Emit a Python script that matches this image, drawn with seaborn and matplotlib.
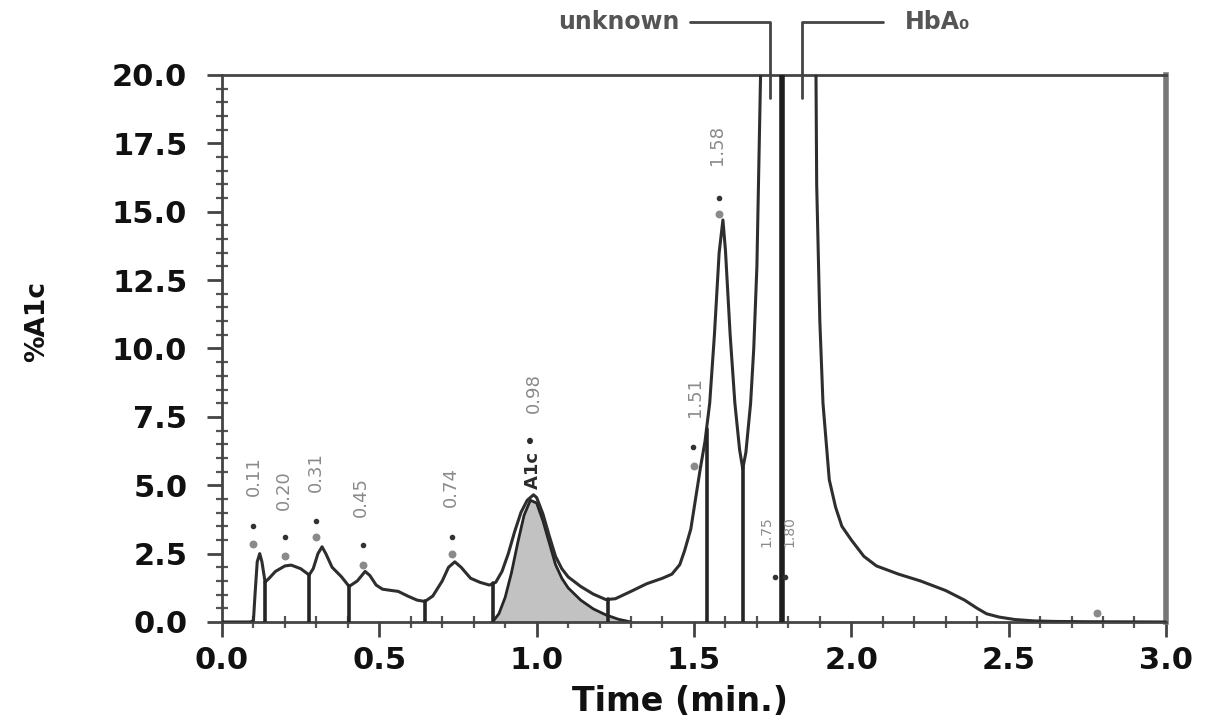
import numpy as np
import pandas as pd
import seaborn as sns
import matplotlib.pyplot as plt

# chromatogram trace (time in min, %A1c); values above 20 are off-scale
time = [0.00, 0.09, 0.10, 0.105, 0.112, 0.12, 0.127, 0.137, 0.15, 0.17, 0.20, 0.22,
        0.25, 0.277, 0.29, 0.305, 0.318, 0.33, 0.35, 0.38, 0.404, 0.43, 0.455, 0.47,
        0.49, 0.51, 0.54, 0.56, 0.59, 0.62, 0.645, 0.67, 0.70, 0.72, 0.74, 0.76,
        0.79, 0.82, 0.85, 0.87, 0.89, 0.91, 0.93, 0.95, 0.97, 0.99, 1.00, 1.02,
        1.04, 1.06, 1.08, 1.10, 1.14, 1.18, 1.22, 1.25, 1.30, 1.35, 1.40, 1.43,
        1.455, 1.47, 1.49, 1.505, 1.52, 1.535, 1.55, 1.565, 1.58, 1.592, 1.60,
        1.615, 1.63, 1.645, 1.655, 1.665, 1.68, 1.69, 1.70, 1.71, 1.72, 1.78,
        1.885, 1.89, 1.90, 1.91, 1.93, 1.95, 1.97, 2.00, 2.04, 2.08, 2.15, 2.22,
        2.30, 2.36, 2.40, 2.43, 2.47, 2.52, 2.58, 2.65, 2.75, 3.00]
signal = [0.0, 0.0, 0.05, 1.0, 2.2, 2.5, 2.2, 1.46, 1.6, 1.85, 2.05, 2.08,
          1.95, 1.72, 1.95, 2.5, 2.75, 2.5, 2.0, 1.65, 1.3, 1.5, 1.85, 1.7,
          1.35, 1.2, 1.15, 1.12, 0.95, 0.8, 0.75, 0.95, 1.5, 2.0, 2.2, 2.0,
          1.6, 1.45, 1.35, 1.45, 1.85, 2.5, 3.3, 4.0, 4.45, 4.65, 4.55, 3.95,
          3.15, 2.4, 1.95, 1.65, 1.3, 1.02, 0.82, 0.85, 1.12, 1.4, 1.6, 1.75,
          2.1, 2.6, 3.4, 4.5, 5.6, 6.6, 8.0, 10.5, 13.5, 14.7, 13.6,
          10.5, 8.0, 6.3, 5.6, 6.2, 8.0, 10.0, 13.0, 19.0, 25.0, 60.0,
          25.0, 16.0, 11.0, 8.0, 5.2, 4.2, 3.5, 3.0, 2.4, 2.05, 1.75, 1.5,
          1.15, 0.8, 0.5, 0.3, 0.18, 0.09, 0.04, 0.02, 0.01, 0.0]

# fitted A1c peak (shaded)
a1c_time = [0.86, 0.88, 0.90, 0.92, 0.94, 0.96, 0.98, 1.00, 1.02, 1.04, 1.06,
            1.08, 1.10, 1.14, 1.18, 1.22, 1.26, 1.30]
a1c_signal = [0.0, 0.3, 0.9, 1.8, 2.9, 3.9, 4.45, 4.35, 3.7, 2.9, 2.1,
              1.6, 1.25, 0.8, 0.48, 0.26, 0.1, 0.0]

# integration drop lines
drop_times = [0.137, 0.277, 0.404, 0.645, 0.862, 1.226, 1.54, 1.656]
hb_a0_line = 1.78

# retention time labels: (time, text bottom, text)
rt_times = [0.10, 0.197, 0.30, 0.44, 0.728, 0.99, 1.503, 1.573, 1.729, 1.802]
rt_bottoms = [4.6, 4.1, 4.75, 3.85, 4.2, 7.65, 7.5, 16.7, 2.75, 2.75]
rt_labels = ["0.11", "0.20", "0.31", "0.45", "0.74", "0.98", "1.51", "1.58", "1.75", "1.80"]

# peak marker dots
black_dot_t = [0.10, 0.20, 0.30, 0.448, 0.73, 1.497, 1.58, 1.757, 1.79]
black_dot_y = [3.5, 3.1, 3.7, 2.8, 3.1, 6.4, 15.5, 1.65, 1.65]
grey_dot_t = [0.10, 0.20, 0.30, 0.448, 0.73, 1.50, 1.58, 2.78]
grey_dot_y = [2.85, 2.4, 3.1, 2.1, 2.5, 5.7, 14.9, 0.33]

sns.set_style("ticks")
plt.rcParams['font.family'] = ['DejaVu Sans']

fig = plt.figure(figsize=(12.09, 7.23), dpi=100)
ax = fig.add_axes([0.1836, 0.1397, 0.7808, 0.7566])

df = pd.DataFrame({"time": time, "signal": signal})
ax.fill_between(a1c_time, a1c_signal, color="#c2c2c2", lw=0, zorder=1)
ax.plot(a1c_time, a1c_signal, color="#262626", lw=2, zorder=2)
sns.lineplot(data=df, x="time", y="signal", ax=ax, color="#2e2e2e", lw=2.2,
             estimator=None, sort=False, zorder=3)

for t in drop_times:
    ax.plot([t, t], [0, np.interp(t, time, signal)], color="#262626", lw=2.6, zorder=3)
ax.plot([hb_a0_line, hb_a0_line], [0, 20], color="#1e1e1e", lw=4, zorder=4)

for t, b, s in zip(rt_times, rt_bottoms, rt_labels):
    fs = 10 if t > 1.7 else 13
    ax.text(t, b, s, rotation=90, ha="center", va="bottom", fontsize=fs,
            color="#8a8a8a", zorder=5)
ax.text(0.99, 4.85, "A1c •", rotation=90, ha="center", va="bottom", fontsize=13,
        fontweight="bold", color="#2a2a2a", zorder=5)

ax.scatter(black_dot_t, black_dot_y, s=9, color="#333333", zorder=5)
ax.scatter(grey_dot_t, grey_dot_y, s=22, color="#8a8a8a", zorder=5)

# peak name leaders above the plot
ax.plot([1.487, 1.741, 1.741], [21.94, 21.94, 19.16], color="#444444", lw=2, clip_on=False)
ax.plot([2.100, 1.843, 1.843], [21.94, 21.94, 19.16], color="#444444", lw=2, clip_on=False)
ax.text(1.455, 21.94, "unknown", ha="right", va="center", fontsize=17,
        color="#555555", fontweight="bold")
ax.text(2.17, 21.94, "HbA₀", ha="left", va="center", fontsize=17,
        color="#555555", fontweight="bold")

ax.set_xlim(0, 3.0)
ax.set_ylim(0, 20)
ax.set_xticks(np.arange(0, 3.01, 0.5))
ax.set_xticks(np.arange(0, 3.01, 0.1), minor=True)
ax.set_yticks(np.arange(0, 20.01, 2.5))
ax.set_yticks(np.arange(0, 20.01, 0.5), minor=True)
ax.xaxis.set_major_formatter(plt.FormatStrFormatter("%.1f"))
ax.yaxis.set_major_formatter(plt.FormatStrFormatter("%.1f"))

ax.tick_params(axis="both", which="major", direction="out", length=11, width=2,
               color="#444444", labelsize=22, pad=6)
ax.tick_params(axis="y", which="major", pad=14)
ax.tick_params(axis="both", which="minor", direction="inout", length=9, width=1.6,
               color="#555555")
for lab in ax.get_xticklabels() + ax.get_yticklabels():
    lab.set_fontweight("bold")
    lab.set_color("#111111")

for side in ["left", "bottom", "top"]:
    ax.spines[side].set_color("#444444")
    ax.spines[side].set_linewidth(2)
ax.spines["right"].set_color("#777777")
ax.spines["right"].set_linewidth(4)

ax.set_xlabel("Time (min.)", fontsize=24, fontweight="bold", color="#111111")
ax.set_ylabel("%A1c", fontsize=19, fontweight="bold", color="#111111")
ax.xaxis.set_label_coords(0.485, -0.115)
ax.yaxis.set_label_coords(-0.182, 0.55)

fig.savefig("out.png", dpi=100, facecolor="white")
